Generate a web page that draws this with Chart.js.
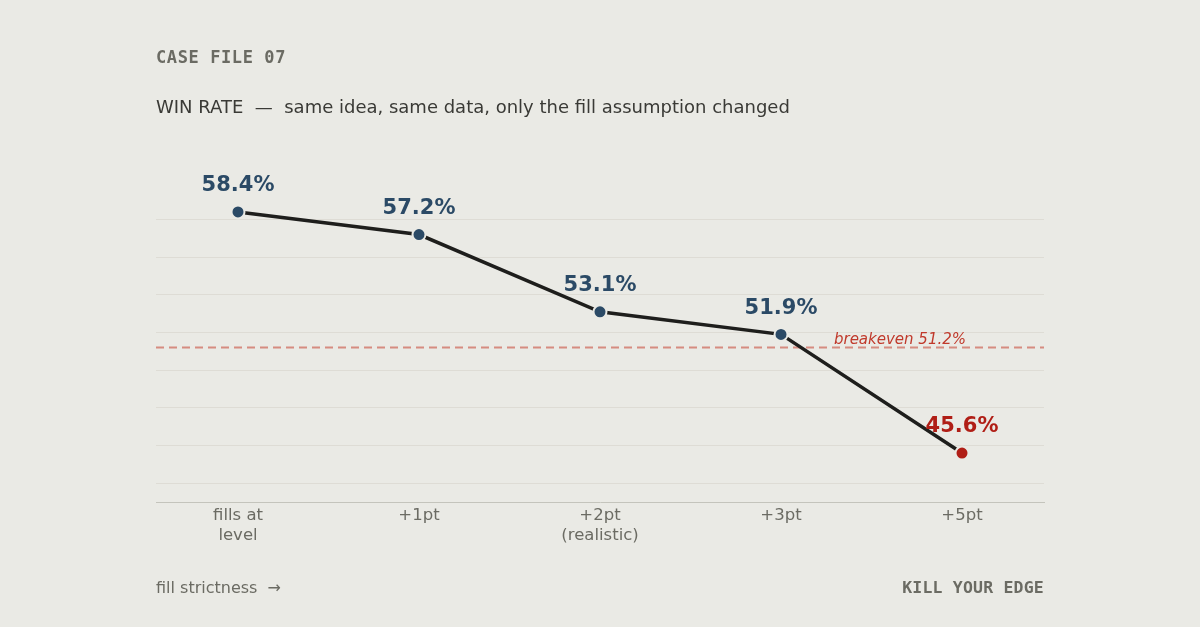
<!DOCTYPE html>
<html>
<head>
<meta charset="utf-8">
<script src="https://cdn.jsdelivr.net/npm/chart.js@4/dist/chart.umd.min.js"></script>
<style>
  html, body { margin: 0; padding: 0; background: #eaeae5; }
  #wrap { position: relative; width: 1200px; height: 627px; overflow: hidden; }
  #chart { position: absolute; left: 0; top: 0; }
  .txt { position: absolute; white-space: nowrap; }
  #kicker { left: 156px; top: 47px; font: bold 17px "DejaVu Sans Mono"; letter-spacing: 0.6px; color: #6b6b63; }
  #title { left: 156px; top: 96px; font: 18px "DejaVu Sans"; color: #3a3a36; }
  #foot-l { left: 156px; top: 578px; font: 16px "DejaVu Sans"; color: #6b6b63; }
  #foot-r { right: 156px; top: 578px; font: bold 16.5px "DejaVu Sans Mono"; letter-spacing: 0.2px; color: #6b6b63; }
</style>
</head>
<body>
<div id="wrap">
  <canvas id="chart" width="1200" height="627"></canvas>
  <div class="txt" id="kicker">CASE FILE 07</div>
  <div class="txt" id="title">WIN RATE &nbsp;—&nbsp; same idea, same data, only the fill assumption changed</div>
  <div class="txt" id="foot-l">fill strictness &nbsp;→</div>
  <div class="txt" id="foot-r">KILL YOUR EDGE</div>
</div>
<script>
const categories = [['fills at', 'level'], '+1pt', ['+2pt', '(realistic)'], '+3pt', '+5pt'];
const winRate = [58.4, 57.2, 53.1, 51.9, 45.6];
const gridTicks = [44, 46, 48, 50, 52, 54, 56, 58];
const breakeven = 51.2;

const blue = '#2b4a66';
const red = '#b01e16';
const pointColors = winRate.map(v => v < breakeven ? red : blue);

const labelsPlugin = {
  id: 'valueLabels',
  afterDatasetsDraw(chart) {
    const ctx = chart.ctx;
    const meta = chart.getDatasetMeta(0);
    ctx.save();
    ctx.font = 'bold 21px "DejaVu Sans"';
    ctx.textAlign = 'center';
    ctx.textBaseline = 'middle';
    meta.data.forEach((pt, i) => {
      ctx.fillStyle = pointColors[i];
      ctx.fillText(winRate[i].toFixed(1) + '%', pt.x, pt.y - 26);
    });
    ctx.restore();
  }
};

const breakevenPlugin = {
  id: 'breakeven',
  beforeDatasetsDraw(chart) {
    const ctx = chart.ctx;
    const area = chart.chartArea;
    const y = chart.scales.y.getPixelForValue(breakeven);
    ctx.save();
    ctx.strokeStyle = 'rgba(205, 100, 85, 0.7)';
    ctx.lineWidth = 2;
    ctx.setLineDash([8, 5]);
    ctx.beginPath();
    ctx.moveTo(area.left, y);
    ctx.lineTo(area.right, y);
    ctx.stroke();
    ctx.setLineDash([]);
    ctx.font = 'italic 15px "DejaVu Sans"';
    ctx.fillStyle = '#c0392b';
    ctx.textAlign = 'right';
    ctx.textBaseline = 'bottom';
    ctx.fillText('breakeven ' + breakeven.toFixed(1) + '%', area.right - 78, y);
    ctx.restore();
  }
};

new Chart(document.getElementById('chart').getContext('2d'), {
  type: 'line',
  data: {
    datasets: [{
      data: winRate.map((v, i) => ({ x: i, y: v })),
      borderColor: '#1e1e1c',
      borderWidth: 3.5,
      pointRadius: 6.5,
      pointBackgroundColor: pointColors,
      pointBorderColor: '#eaeae5',
      pointBorderWidth: 2,
      tension: 0,
      clip: false
    }]
  },
  options: {
    responsive: false,
    animation: false,
    layout: { padding: { left: 156, right: 156, top: 163, bottom: 65 } },
    plugins: { legend: { display: false }, tooltip: { enabled: false } },
    scales: {
      x: {
        type: 'linear',
        min: -0.453,
        max: 4.453,
        afterBuildTicks: s => { s.ticks = categories.map((c, i) => ({ value: i })); },
        afterFit: s => { s.height = 60; },
        grid: { display: false, drawTicks: false },
        border: { display: true, color: '#c4c4bc', width: 1 },
        ticks: {
          callback: (v) => categories[v],
          color: '#6b6b63',
          font: { family: 'DejaVu Sans', size: 16.5, lineHeight: 1.22 },
          padding: 4,
          maxRotation: 0
        }
      },
      y: {
        min: 43,
        max: 61,
        afterBuildTicks: s => { s.ticks = gridTicks.map(v => ({ value: v })); },
        afterFit: s => { s.width = 0; },
        border: { display: false },
        grid: { color: '#dedcd5', lineWidth: 1, drawTicks: false },
        ticks: { display: false }
      }
    }
  },
  plugins: [breakevenPlugin, labelsPlugin]
});
</script>
</body>
</html>
